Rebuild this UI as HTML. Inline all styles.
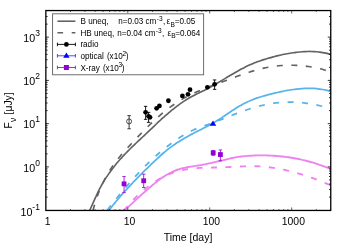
<!DOCTYPE html><html><head><meta charset="utf-8"><style>html,body{margin:0;padding:0;background:#fff;width:350px;height:245px;overflow:hidden}</style></head><body><svg width="350" height="245" viewBox="0 0 350 245" style="position:absolute;left:0;top:0;will-change:transform;font-family:'Liberation Sans',sans-serif">
<defs><clipPath id="c"><rect x="45.85" y="10.55" width="284.90" height="199.90"/></clipPath></defs>
<rect width="350" height="245" fill="#fff"/>
<g clip-path="url(#c)"><g transform="translate(0,0.4)" fill="none" stroke-width="1.55">
<path d="M89.66,210.06 C89.87,209.60 90.52,208.21 90.94,207.29 C91.36,206.37 91.78,205.46 92.19,204.54 C92.60,203.62 93.00,202.70 93.41,201.79 C93.82,200.88 94.22,199.97 94.63,199.06 C95.04,198.15 95.44,197.25 95.85,196.35 C96.26,195.45 96.68,194.55 97.10,193.65 C97.52,192.75 97.94,191.87 98.38,190.98 C98.81,190.09 99.26,189.20 99.71,188.32 C100.16,187.44 100.62,186.56 101.10,185.69 C101.57,184.82 102.06,183.95 102.56,183.09 C103.06,182.23 103.58,181.36 104.10,180.51 C104.62,179.66 105.15,178.80 105.69,177.96 C106.23,177.12 106.79,176.28 107.35,175.45 C107.91,174.62 108.48,173.79 109.06,172.97 C109.64,172.15 110.22,171.33 110.82,170.52 C111.41,169.71 112.02,168.91 112.63,168.11 C113.24,167.31 113.86,166.53 114.48,165.75 C115.10,164.97 115.73,164.19 116.36,163.42 C116.99,162.65 117.63,161.89 118.27,161.13 C118.91,160.37 119.56,159.62 120.22,158.88 C120.88,158.14 121.53,157.40 122.20,156.67 C122.87,155.94 123.54,155.20 124.22,154.48 C124.90,153.75 125.58,153.03 126.27,152.32 C126.96,151.60 127.65,150.90 128.35,150.19 C129.05,149.48 129.77,148.78 130.48,148.08 C131.19,147.38 131.91,146.68 132.63,145.98 C133.35,145.28 134.09,144.59 134.82,143.90 C135.55,143.21 136.29,142.52 137.02,141.83 C137.75,141.14 138.49,140.46 139.22,139.77 C139.95,139.08 140.69,138.40 141.43,137.71 C142.17,137.03 142.90,136.34 143.63,135.66 C144.36,134.97 145.09,134.29 145.82,133.60 C146.54,132.91 147.26,132.22 147.98,131.54 C148.70,130.85 149.42,130.18 150.14,129.49 C150.86,128.81 151.57,128.11 152.29,127.43 C153.01,126.75 153.72,126.07 154.44,125.39 C155.16,124.71 155.87,124.03 156.59,123.35 C157.31,122.67 158.03,121.99 158.76,121.32 C159.48,120.65 160.21,119.98 160.94,119.31 C161.67,118.64 162.39,117.98 163.13,117.32 C163.87,116.66 164.60,116.00 165.35,115.34 C166.09,114.68 166.84,114.03 167.60,113.38 C168.36,112.73 169.12,112.08 169.89,111.44 C170.66,110.80 171.43,110.16 172.21,109.53 C172.99,108.90 173.77,108.27 174.57,107.65 C175.37,107.03 176.18,106.40 176.99,105.79 C177.80,105.18 178.62,104.58 179.45,103.98 C180.28,103.38 181.11,102.79 181.95,102.21 C182.79,101.63 183.63,101.06 184.48,100.51 C185.33,99.96 186.19,99.41 187.05,98.88 C187.91,98.35 188.77,97.84 189.64,97.34 C190.51,96.84 191.38,96.36 192.25,95.89 C193.12,95.42 194.00,94.97 194.88,94.53 C195.76,94.09 196.63,93.65 197.51,93.22 C198.39,92.79 199.27,92.37 200.15,91.94 C201.03,91.51 201.90,91.09 202.78,90.66 C203.66,90.23 204.54,89.79 205.41,89.34 C206.28,88.89 207.15,88.44 208.02,87.98 C208.89,87.52 209.76,87.04 210.63,86.56 C211.50,86.08 212.36,85.59 213.23,85.10 C214.09,84.61 214.96,84.10 215.82,83.60 C216.68,83.10 217.55,82.59 218.41,82.08 C219.27,81.57 220.14,81.06 221.00,80.54 C221.86,80.02 222.72,79.50 223.58,78.98 C224.44,78.46 225.31,77.94 226.18,77.42 C227.05,76.90 227.90,76.38 228.77,75.86 C229.64,75.34 230.51,74.82 231.38,74.31 C232.25,73.80 233.12,73.28 233.99,72.78 C234.86,72.28 235.74,71.78 236.62,71.28 C237.50,70.78 238.38,70.29 239.26,69.81 C240.14,69.33 241.02,68.85 241.91,68.38 C242.80,67.91 243.69,67.45 244.58,67.00 C245.47,66.55 246.37,66.12 247.27,65.69 C248.17,65.26 249.06,64.84 249.97,64.44 C250.88,64.04 251.79,63.65 252.70,63.27 C253.61,62.89 254.52,62.53 255.44,62.18 C256.36,61.83 257.27,61.48 258.20,61.15 C259.12,60.81 260.06,60.49 260.99,60.17 C261.92,59.85 262.86,59.55 263.80,59.25 C264.74,58.95 265.69,58.65 266.64,58.36 C267.59,58.07 268.54,57.79 269.50,57.51 C270.46,57.23 271.42,56.96 272.38,56.70 C273.34,56.44 274.31,56.18 275.28,55.93 C276.25,55.68 277.22,55.44 278.20,55.21 C279.18,54.98 280.15,54.75 281.13,54.53 C282.11,54.31 283.09,54.10 284.08,53.90 C285.06,53.70 286.05,53.50 287.04,53.32 C288.03,53.14 289.02,52.96 290.01,52.80 C291.00,52.64 292.00,52.48 292.99,52.34 C293.99,52.20 294.99,52.06 295.98,51.94 C296.98,51.82 297.96,51.71 298.96,51.61 C299.95,51.51 300.95,51.42 301.95,51.34 C302.95,51.27 303.94,51.21 304.94,51.16 C305.94,51.11 306.93,51.08 307.93,51.06 C308.93,51.04 309.93,51.04 310.92,51.06 C311.91,51.08 312.90,51.11 313.89,51.16 C314.88,51.21 315.87,51.29 316.86,51.38 C317.85,51.47 318.83,51.58 319.82,51.71 C320.81,51.84 321.79,52.00 322.77,52.17 C323.75,52.34 324.73,52.54 325.70,52.76 C326.67,52.98 327.64,53.23 328.61,53.50 C329.58,53.77 331.03,54.24 331.51,54.39" stroke="#626262" stroke-width="1.65"/>
<path d="M92.70,211.07 C92.83,210.59 93.22,209.16 93.49,208.21 C93.76,207.26 94.02,206.31 94.30,205.36 C94.58,204.41 94.86,203.47 95.15,202.52 C95.44,201.58 95.73,200.63 96.03,199.69 C96.33,198.75 96.64,197.81 96.96,196.87 C97.28,195.93 97.62,195.00 97.96,194.07 C98.30,193.14 98.66,192.21 99.02,191.29 C99.38,190.37 99.76,189.44 100.15,188.53 C100.54,187.62 100.94,186.71 101.35,185.80 C101.76,184.90 102.19,184.00 102.62,183.10 C103.05,182.20 103.49,181.31 103.94,180.43 C104.39,179.55 104.84,178.66 105.31,177.79 C105.78,176.92 106.26,176.05 106.75,175.19 C107.24,174.33 107.73,173.48 108.24,172.63 C108.74,171.78 109.25,170.94 109.78,170.10 C110.31,169.26 110.85,168.43 111.39,167.61 C111.93,166.79 112.48,165.97 113.04,165.16 C113.60,164.35 114.17,163.55 114.75,162.75 C115.33,161.95 115.91,161.16 116.51,160.38 C117.11,159.60 117.72,158.82 118.33,158.05 C118.94,157.28 119.56,156.52 120.19,155.76 C120.82,155.00 121.46,154.25 122.11,153.51 C122.76,152.76 123.41,152.02 124.07,151.29 C124.73,150.56 125.39,149.83 126.06,149.10 C126.73,148.37 127.40,147.64 128.07,146.91 C128.74,146.18 129.41,145.46 130.09,144.73 C130.77,144.00 131.44,143.28 132.12,142.55 C132.80,141.82 133.48,141.10 134.16,140.37 C134.84,139.64 135.52,138.91 136.20,138.19 C136.88,137.47 137.57,136.74 138.26,136.02 C138.95,135.30 139.64,134.58 140.33,133.86 C141.02,133.14 141.72,132.43 142.41,131.71 C143.10,131.00 143.80,130.28 144.50,129.57 C145.20,128.86 145.90,128.15 146.61,127.45 C147.32,126.75 148.03,126.04 148.74,125.35 C149.45,124.66 150.17,123.97 150.89,123.28 C151.61,122.59 152.33,121.90 153.05,121.22 C153.78,120.54 154.51,119.87 155.24,119.20 C155.97,118.53 156.71,117.86 157.45,117.20 C158.19,116.54 158.93,115.89 159.68,115.24 C160.43,114.59 161.18,113.95 161.94,113.31 C162.70,112.67 163.46,112.04 164.23,111.42 C165.00,110.80 165.76,110.19 166.54,109.58 C167.31,108.97 168.09,108.36 168.88,107.77 C169.66,107.18 170.45,106.60 171.25,106.02 C172.05,105.44 172.85,104.87 173.66,104.31 C174.47,103.75 175.27,103.19 176.09,102.65 C176.91,102.11 177.74,101.58 178.57,101.05 C179.40,100.52 180.23,100.01 181.07,99.50 C181.91,98.99 182.76,98.50 183.61,98.01 C184.47,97.53 185.33,97.06 186.20,96.59 C187.07,96.12 187.93,95.67 188.81,95.22 C189.69,94.77 190.57,94.34 191.46,93.91 C192.35,93.48 193.24,93.06 194.14,92.65 C195.04,92.24 195.94,91.83 196.84,91.43 C197.75,91.03 198.66,90.64 199.57,90.25 C200.48,89.86 201.40,89.49 202.32,89.11 C203.24,88.73 204.16,88.36 205.09,87.99 C206.02,87.62 206.94,87.26 207.87,86.90 C208.80,86.54 209.73,86.18 210.66,85.83 C211.59,85.48 212.53,85.13 213.46,84.78 C214.40,84.43 215.33,84.09 216.27,83.74 C217.21,83.39 218.14,83.05 219.08,82.70 C220.02,82.36 220.95,82.02 221.89,81.67 C222.82,81.33 223.76,80.98 224.69,80.63 C225.62,80.28 226.56,79.93 227.49,79.58 C228.42,79.23 229.35,78.88 230.28,78.53 C231.21,78.18 232.14,77.84 233.07,77.49 C234.00,77.14 234.93,76.79 235.86,76.45 C236.79,76.11 237.72,75.77 238.65,75.43 C239.58,75.09 240.51,74.75 241.44,74.42 C242.37,74.09 243.31,73.76 244.24,73.44 C245.17,73.12 246.10,72.80 247.04,72.49 C247.97,72.18 248.91,71.87 249.85,71.57 C250.79,71.27 251.73,70.97 252.67,70.69 C253.61,70.41 254.56,70.13 255.50,69.86 C256.44,69.59 257.39,69.33 258.34,69.08 C259.29,68.83 260.24,68.58 261.20,68.35 C262.16,68.12 263.12,67.89 264.08,67.68 C265.04,67.47 266.01,67.27 266.98,67.08 C267.95,66.89 268.92,66.72 269.89,66.56 C270.86,66.40 271.84,66.24 272.82,66.10 C273.80,65.96 274.78,65.83 275.77,65.71 C276.75,65.59 277.74,65.48 278.73,65.39 C279.72,65.30 280.71,65.21 281.70,65.14 C282.69,65.07 283.69,65.02 284.68,64.97 C285.67,64.92 286.67,64.89 287.66,64.86 C288.65,64.83 289.64,64.82 290.64,64.82 C291.63,64.82 292.63,64.83 293.63,64.86 C294.63,64.89 295.62,64.92 296.62,64.97 C297.62,65.02 298.61,65.07 299.60,65.14 C300.59,65.21 301.58,65.30 302.57,65.39 C303.56,65.48 304.55,65.59 305.54,65.71 C306.53,65.83 307.51,65.97 308.49,66.11 C309.47,66.25 310.45,66.40 311.43,66.57 C312.41,66.74 313.39,66.92 314.36,67.11 C315.33,67.30 316.30,67.50 317.27,67.71 C318.24,67.92 319.20,68.15 320.16,68.39 C321.12,68.63 322.07,68.88 323.02,69.14 C323.97,69.40 324.92,69.68 325.86,69.97 C326.80,70.26 327.75,70.55 328.68,70.86 C329.61,71.17 331.00,71.67 331.46,71.83" stroke="#626262" stroke-width="1.65" stroke-dasharray="6 8.5" stroke-dashoffset="13.45"/>
<path d="M108.18,210.98 C108.48,210.59 109.38,209.40 109.98,208.62 C110.58,207.84 111.19,207.06 111.80,206.28 C112.41,205.50 113.04,204.72 113.66,203.95 C114.28,203.18 114.91,202.41 115.54,201.64 C116.17,200.87 116.81,200.10 117.45,199.34 C118.09,198.58 118.73,197.82 119.38,197.06 C120.03,196.30 120.68,195.55 121.34,194.80 C122.00,194.05 122.66,193.30 123.32,192.55 C123.98,191.80 124.65,191.06 125.32,190.32 C125.99,189.58 126.66,188.85 127.33,188.11 C128.00,187.38 128.68,186.64 129.36,185.91 C130.04,185.18 130.72,184.45 131.41,183.73 C132.09,183.01 132.78,182.29 133.47,181.57 C134.16,180.85 134.85,180.14 135.54,179.43 C136.23,178.72 136.93,178.02 137.62,177.31 C138.31,176.60 139.01,175.90 139.71,175.20 C140.41,174.50 141.10,173.80 141.80,173.11 C142.50,172.42 143.21,171.73 143.91,171.04 C144.61,170.35 145.31,169.66 146.02,168.98 C146.73,168.29 147.43,167.61 148.14,166.93 C148.85,166.25 149.56,165.56 150.27,164.88 C150.98,164.19 151.69,163.50 152.41,162.82 C153.13,162.13 153.85,161.46 154.57,160.77 C155.29,160.08 156.02,159.39 156.75,158.70 C157.48,158.01 158.21,157.32 158.95,156.64 C159.69,155.96 160.43,155.27 161.18,154.60 C161.93,153.93 162.68,153.26 163.44,152.60 C164.20,151.94 164.97,151.29 165.74,150.65 C166.51,150.01 167.29,149.39 168.08,148.77 C168.87,148.15 169.67,147.54 170.47,146.95 C171.27,146.35 172.08,145.77 172.89,145.20 C173.70,144.63 174.52,144.06 175.34,143.51 C176.16,142.95 177.00,142.41 177.83,141.87 C178.66,141.33 179.50,140.81 180.34,140.29 C181.18,139.77 182.03,139.26 182.88,138.76 C183.73,138.26 184.58,137.76 185.44,137.27 C186.30,136.78 187.16,136.31 188.02,135.83 C188.88,135.36 189.75,134.88 190.62,134.42 C191.49,133.95 192.36,133.50 193.23,133.04 C194.10,132.58 194.98,132.14 195.85,131.69 C196.72,131.24 197.59,130.79 198.47,130.35 C199.34,129.91 200.22,129.47 201.10,129.02 C201.98,128.58 202.85,128.13 203.73,127.68 C204.60,127.23 205.48,126.78 206.35,126.32 C207.22,125.86 208.10,125.39 208.97,124.92 C209.84,124.45 210.71,123.97 211.58,123.48 C212.45,122.99 213.32,122.50 214.18,122.00 C215.04,121.50 215.90,120.97 216.76,120.45 C217.62,119.93 218.47,119.40 219.32,118.86 C220.17,118.32 221.03,117.77 221.87,117.21 C222.72,116.65 223.55,116.08 224.39,115.52 C225.23,114.95 226.06,114.39 226.90,113.82 C227.74,113.25 228.57,112.67 229.41,112.11 C230.25,111.55 231.07,110.99 231.91,110.43 C232.75,109.88 233.58,109.32 234.42,108.78 C235.26,108.24 236.10,107.72 236.94,107.20 C237.78,106.69 238.63,106.18 239.48,105.69 C240.33,105.20 241.18,104.73 242.04,104.26 C242.90,103.80 243.76,103.34 244.63,102.90 C245.50,102.46 246.38,102.04 247.26,101.62 C248.14,101.20 249.03,100.80 249.93,100.41 C250.83,100.02 251.73,99.65 252.64,99.29 C253.55,98.93 254.46,98.59 255.39,98.25 C256.31,97.91 257.25,97.59 258.19,97.27 C259.13,96.95 260.07,96.64 261.02,96.35 C261.97,96.05 262.91,95.78 263.87,95.50 C264.83,95.22 265.79,94.95 266.76,94.69 C267.73,94.43 268.69,94.18 269.66,93.93 C270.63,93.68 271.60,93.44 272.57,93.20 C273.54,92.96 274.52,92.74 275.50,92.51 C276.48,92.28 277.46,92.06 278.44,91.84 C279.42,91.62 280.39,91.41 281.37,91.20 C282.35,91.00 283.34,90.80 284.32,90.61 C285.30,90.42 286.28,90.23 287.26,90.05 C288.24,89.87 289.24,89.71 290.22,89.55 C291.21,89.39 292.19,89.24 293.17,89.10 C294.16,88.96 295.14,88.83 296.13,88.72 C297.12,88.61 298.09,88.50 299.08,88.41 C300.06,88.32 301.05,88.24 302.04,88.17 C303.03,88.10 304.01,88.05 305.00,88.01 C305.99,87.97 306.97,87.95 307.96,87.94 C308.95,87.93 309.93,87.93 310.92,87.96 C311.91,87.98 312.89,88.03 313.88,88.09 C314.87,88.15 315.85,88.22 316.83,88.32 C317.81,88.41 318.80,88.53 319.78,88.66 C320.76,88.79 321.75,88.94 322.73,89.11 C323.71,89.28 324.70,89.48 325.68,89.70 C326.66,89.92 327.64,90.15 328.62,90.41 C329.60,90.67 331.06,91.12 331.55,91.26" stroke="#56b4e9" stroke-width="1.75"/>
<path d="M106.35,210.91 C106.66,210.51 107.59,209.33 108.21,208.54 C108.83,207.75 109.44,206.96 110.06,206.17 C110.68,205.38 111.30,204.59 111.92,203.81 C112.54,203.03 113.17,202.24 113.79,201.46 C114.41,200.68 115.03,199.90 115.66,199.12 C116.28,198.34 116.91,197.56 117.54,196.79 C118.17,196.01 118.80,195.24 119.43,194.47 C120.06,193.70 120.69,192.93 121.33,192.16 C121.97,191.39 122.60,190.62 123.24,189.86 C123.88,189.10 124.53,188.33 125.17,187.57 C125.81,186.81 126.45,186.06 127.10,185.30 C127.75,184.55 128.40,183.79 129.05,183.04 C129.70,182.29 130.36,181.54 131.02,180.79 C131.68,180.04 132.34,179.30 133.01,178.56 C133.67,177.82 134.34,177.08 135.01,176.34 C135.68,175.60 136.35,174.87 137.03,174.14 C137.71,173.41 138.39,172.68 139.07,171.96 C139.75,171.24 140.44,170.52 141.13,169.80 C141.82,169.08 142.51,168.36 143.21,167.65 C143.91,166.94 144.61,166.23 145.31,165.52 C146.01,164.81 146.72,164.12 147.44,163.42 C148.16,162.72 148.88,162.02 149.60,161.33 C150.32,160.64 151.05,159.95 151.78,159.27 C152.51,158.59 153.24,157.91 153.98,157.23 C154.72,156.55 155.46,155.88 156.21,155.21 C156.96,154.54 157.71,153.89 158.47,153.23 C159.23,152.57 159.99,151.92 160.76,151.27 C161.53,150.62 162.29,149.98 163.07,149.35 C163.85,148.72 164.63,148.09 165.42,147.46 C166.21,146.84 166.99,146.21 167.79,145.60 C168.59,144.99 169.39,144.38 170.20,143.78 C171.01,143.18 171.82,142.58 172.64,141.99 C173.46,141.40 174.27,140.82 175.10,140.25 C175.93,139.68 176.76,139.11 177.60,138.55 C178.44,137.99 179.29,137.44 180.14,136.89 C180.99,136.34 181.84,135.81 182.70,135.28 C183.56,134.75 184.43,134.23 185.30,133.73 C186.17,133.22 187.05,132.73 187.93,132.25 C188.81,131.77 189.69,131.31 190.58,130.87 C191.47,130.43 192.36,130.00 193.26,129.60 C194.16,129.20 195.06,128.81 195.96,128.45 C196.86,128.08 197.77,127.75 198.68,127.41 C199.59,127.07 200.50,126.75 201.41,126.43 C202.32,126.11 203.24,125.80 204.16,125.48 C205.08,125.16 206.00,124.84 206.92,124.52 C207.84,124.19 208.76,123.87 209.69,123.53 C210.62,123.19 211.54,122.85 212.47,122.50 C213.40,122.15 214.32,121.80 215.25,121.44 C216.18,121.08 217.12,120.72 218.05,120.36 C218.98,120.00 219.91,119.63 220.85,119.26 C221.78,118.89 222.72,118.52 223.66,118.15 C224.60,117.78 225.53,117.40 226.47,117.03 C227.41,116.66 228.36,116.29 229.30,115.92 C230.24,115.55 231.19,115.18 232.13,114.81 C233.07,114.44 234.02,114.07 234.97,113.71 C235.92,113.35 236.86,112.99 237.81,112.63 C238.76,112.27 239.71,111.92 240.66,111.57 C241.61,111.22 242.57,110.88 243.52,110.55 C244.47,110.22 245.43,109.88 246.38,109.56 C247.33,109.24 248.29,108.92 249.25,108.61 C250.21,108.30 251.17,108.00 252.13,107.71 C253.09,107.42 254.05,107.13 255.01,106.86 C255.97,106.59 256.93,106.32 257.90,106.06 C258.87,105.80 259.83,105.56 260.80,105.32 C261.77,105.08 262.73,104.86 263.70,104.64 C264.67,104.42 265.65,104.22 266.62,104.03 C267.59,103.84 268.56,103.65 269.54,103.48 C270.52,103.31 271.49,103.15 272.47,103.00 C273.45,102.85 274.43,102.71 275.41,102.59 C276.39,102.47 277.38,102.36 278.37,102.26 C279.36,102.16 280.34,102.08 281.33,102.01 C282.32,101.94 283.31,101.88 284.30,101.83 C285.29,101.78 286.29,101.75 287.28,101.73 C288.27,101.71 289.26,101.70 290.26,101.70 C291.25,101.70 292.25,101.72 293.25,101.75 C294.25,101.78 295.24,101.81 296.23,101.86 C297.23,101.91 298.23,101.97 299.22,102.05 C300.22,102.13 301.21,102.22 302.20,102.32 C303.19,102.42 304.19,102.53 305.18,102.65 C306.17,102.77 307.17,102.91 308.16,103.05 C309.15,103.19 310.14,103.35 311.13,103.52 C312.12,103.69 313.10,103.87 314.08,104.06 C315.06,104.25 316.05,104.46 317.03,104.67 C318.01,104.88 318.99,105.11 319.97,105.34 C320.95,105.58 321.92,105.82 322.89,106.08 C323.86,106.34 324.84,106.60 325.80,106.88 C326.76,107.16 327.72,107.45 328.68,107.75 C329.64,108.05 331.07,108.53 331.55,108.68" stroke="#56b4e9" stroke-width="1.75" stroke-dasharray="6 8.5" stroke-dashoffset="13.04"/>
<path d="M123.43,210.92 C123.80,210.59 124.89,209.60 125.62,208.94 C126.35,208.28 127.08,207.61 127.80,206.95 C128.52,206.29 129.24,205.62 129.96,204.96 C130.68,204.30 131.40,203.63 132.12,202.97 C132.84,202.31 133.56,201.64 134.28,200.98 C135.00,200.32 135.72,199.65 136.44,198.99 C137.16,198.33 137.89,197.66 138.61,197.00 C139.34,196.34 140.06,195.67 140.79,195.01 C141.52,194.35 142.25,193.69 142.99,193.03 C143.73,192.37 144.47,191.71 145.21,191.05 C145.96,190.39 146.71,189.74 147.46,189.08 C148.22,188.42 148.97,187.76 149.74,187.11 C150.51,186.46 151.28,185.81 152.06,185.16 C152.84,184.51 153.62,183.86 154.41,183.22 C155.20,182.58 156.00,181.94 156.81,181.32 C157.62,180.69 158.42,180.07 159.24,179.47 C160.06,178.87 160.88,178.27 161.71,177.69 C162.54,177.11 163.38,176.54 164.23,175.99 C165.07,175.44 165.92,174.90 166.78,174.39 C167.64,173.88 168.50,173.38 169.37,172.91 C170.24,172.44 171.12,171.99 172.01,171.57 C172.90,171.15 173.79,170.74 174.69,170.37 C175.59,170.00 176.50,169.66 177.41,169.35 C178.32,169.04 179.24,168.76 180.17,168.50 C181.10,168.24 182.03,168.00 182.97,167.78 C183.91,167.56 184.85,167.35 185.80,167.16 C186.75,166.97 187.69,166.80 188.65,166.63 C189.61,166.46 190.57,166.31 191.53,166.15 C192.49,166.00 193.45,165.85 194.42,165.70 C195.38,165.55 196.35,165.41 197.32,165.25 C198.29,165.09 199.26,164.94 200.23,164.77 C201.20,164.60 202.17,164.41 203.14,164.23 C204.11,164.04 205.09,163.86 206.06,163.66 C207.03,163.46 208.00,163.25 208.97,163.04 C209.94,162.83 210.92,162.61 211.89,162.39 C212.86,162.17 213.84,161.95 214.81,161.72 C215.78,161.49 216.76,161.26 217.74,161.03 C218.72,160.80 219.69,160.57 220.67,160.34 C221.65,160.11 222.63,159.86 223.61,159.63 C224.59,159.40 225.57,159.17 226.55,158.94 C227.53,158.71 228.51,158.48 229.49,158.26 C230.47,158.04 231.46,157.82 232.44,157.62 C233.42,157.42 234.40,157.22 235.39,157.04 C236.38,156.86 237.36,156.69 238.35,156.54 C239.34,156.39 240.31,156.25 241.30,156.13 C242.29,156.00 243.27,155.89 244.26,155.79 C245.25,155.69 246.23,155.60 247.22,155.52 C248.21,155.44 249.19,155.38 250.18,155.32 C251.17,155.26 252.16,155.20 253.15,155.16 C254.14,155.12 255.12,155.08 256.11,155.05 C257.10,155.02 258.08,155.00 259.07,154.99 C260.06,154.98 261.04,154.97 262.03,154.97 C263.02,154.97 264.00,154.97 264.99,154.99 C265.98,155.01 266.96,155.04 267.95,155.07 C268.94,155.10 269.93,155.13 270.91,155.18 C271.90,155.23 272.88,155.29 273.86,155.35 C274.84,155.41 275.83,155.48 276.81,155.56 C277.79,155.64 278.78,155.73 279.76,155.82 C280.74,155.91 281.72,156.01 282.70,156.12 C283.68,156.23 284.66,156.35 285.64,156.48 C286.62,156.61 287.59,156.74 288.57,156.88 C289.55,157.02 290.52,157.17 291.50,157.33 C292.48,157.49 293.45,157.66 294.42,157.83 C295.39,158.00 296.36,158.19 297.33,158.38 C298.30,158.57 299.27,158.77 300.24,158.98 C301.21,159.19 302.18,159.40 303.14,159.63 C304.10,159.86 305.07,160.10 306.03,160.34 C306.99,160.58 307.96,160.83 308.92,161.09 C309.88,161.35 310.83,161.61 311.79,161.89 C312.75,162.17 313.71,162.46 314.66,162.75 C315.61,163.04 316.56,163.34 317.51,163.65 C318.46,163.96 319.41,164.28 320.36,164.61 C321.31,164.94 322.25,165.27 323.19,165.62 C324.13,165.97 325.07,166.33 326.01,166.69 C326.95,167.05 327.88,167.42 328.82,167.80 C329.75,168.18 331.15,168.78 331.62,168.97" stroke="#ee82ee" stroke-width="1.85"/>
<path d="M122.69,211.54 C122.99,211.17 123.87,210.06 124.48,209.32 C125.09,208.58 125.70,207.84 126.33,207.10 C126.96,206.36 127.59,205.62 128.24,204.89 C128.89,204.15 129.54,203.42 130.21,202.69 C130.88,201.96 131.55,201.23 132.24,200.51 C132.93,199.79 133.62,199.06 134.33,198.35 C135.04,197.63 135.75,196.92 136.47,196.22 C137.19,195.52 137.93,194.82 138.67,194.13 C139.41,193.44 140.15,192.76 140.91,192.08 C141.67,191.40 142.44,190.73 143.21,190.07 C143.98,189.41 144.76,188.76 145.55,188.12 C146.34,187.48 147.13,186.85 147.94,186.23 C148.75,185.61 149.56,185.00 150.38,184.41 C151.20,183.81 152.02,183.23 152.85,182.66 C153.68,182.09 154.52,181.52 155.37,180.98 C156.22,180.44 157.07,179.91 157.93,179.39 C158.79,178.87 159.66,178.37 160.53,177.88 C161.40,177.39 162.28,176.93 163.16,176.48 C164.04,176.03 164.94,175.59 165.83,175.17 C166.73,174.75 167.62,174.35 168.53,173.97 C169.44,173.59 170.35,173.23 171.27,172.89 C172.19,172.55 173.11,172.22 174.03,171.92 C174.95,171.61 175.88,171.33 176.82,171.06 C177.75,170.79 178.70,170.54 179.64,170.31 C180.58,170.08 181.53,169.86 182.48,169.66 C183.43,169.46 184.39,169.28 185.35,169.11 C186.31,168.94 187.26,168.78 188.23,168.64 C189.19,168.50 190.17,168.37 191.14,168.25 C192.11,168.13 193.09,168.03 194.07,167.94 C195.05,167.85 196.03,167.76 197.01,167.69 C197.99,167.62 198.97,167.56 199.96,167.51 C200.95,167.46 201.94,167.42 202.93,167.38 C203.92,167.34 204.92,167.31 205.92,167.29 C206.92,167.26 207.91,167.25 208.91,167.23 C209.91,167.21 210.91,167.19 211.91,167.17 C212.91,167.15 213.92,167.14 214.92,167.12 C215.92,167.10 216.93,167.08 217.93,167.05 C218.93,167.02 219.94,166.99 220.94,166.96 C221.94,166.93 222.95,166.90 223.96,166.86 C224.97,166.83 225.97,166.79 226.98,166.75 C227.98,166.71 228.99,166.66 229.99,166.61 C230.99,166.56 232.00,166.52 233.00,166.47 C234.00,166.42 235.01,166.37 236.01,166.32 C237.01,166.27 238.02,166.22 239.02,166.17 C240.02,166.12 241.02,166.07 242.02,166.03 C243.02,165.99 244.02,165.95 245.02,165.92 C246.02,165.89 247.02,165.86 248.02,165.84 C249.02,165.82 250.01,165.81 251.01,165.80 C252.00,165.80 253.00,165.80 253.99,165.81 C254.98,165.82 255.98,165.84 256.97,165.87 C257.96,165.90 258.95,165.95 259.94,166.01 C260.93,166.06 261.92,166.12 262.91,166.20 C263.90,166.28 264.88,166.37 265.87,166.47 C266.86,166.57 267.84,166.67 268.83,166.79 C269.81,166.91 270.80,167.03 271.78,167.17 C272.76,167.31 273.74,167.45 274.72,167.61 C275.70,167.77 276.67,167.94 277.65,168.11 C278.63,168.28 279.61,168.46 280.58,168.65 C281.55,168.84 282.52,169.04 283.49,169.25 C284.46,169.46 285.43,169.68 286.40,169.90 C287.37,170.12 288.34,170.35 289.30,170.59 C290.26,170.83 291.23,171.07 292.19,171.32 C293.15,171.57 294.11,171.83 295.07,172.10 C296.03,172.37 296.99,172.64 297.94,172.92 C298.89,173.20 299.85,173.49 300.80,173.78 C301.75,174.07 302.70,174.37 303.65,174.67 C304.60,174.97 305.55,175.28 306.49,175.60 C307.43,175.92 308.37,176.24 309.31,176.57 C310.25,176.90 311.19,177.22 312.13,177.56 C313.07,177.90 314.00,178.23 314.93,178.58 C315.86,178.93 316.79,179.28 317.72,179.64 C318.65,180.00 319.58,180.36 320.50,180.72 C321.42,181.08 322.34,181.45 323.26,181.82 C324.18,182.19 325.10,182.57 326.02,182.95 C326.94,183.33 327.84,183.71 328.75,184.09 C329.66,184.47 331.03,185.06 331.48,185.26" stroke="#ee82ee" stroke-width="1.85" stroke-dasharray="6 8.5" stroke-dashoffset="12.87"/>
</g></g>
<g transform="translate(0,0.35)">
<g stroke="#222" stroke-width="0.90" fill="none"><path d="M129.10,115.30 V128.40 M127.40,115.30 H130.80 M127.40,128.40 H130.80"/></g>
<circle cx="129.1" cy="121.05" r="2.5" fill="none" stroke="#222" stroke-width="0.8"/>
<g stroke="#000" stroke-width="0.90" fill="none"><path d="M145.60,106.00 V119.00 M143.90,106.00 H147.30 M143.90,119.00 H147.30"/></g>
<circle cx="145.60" cy="112.00" r="2.40" fill="#000"/>
<g stroke="#000" stroke-width="0.90" fill="none"><path d="M148.60,112.00 V122.00 M146.90,112.00 H150.30 M146.90,122.00 H150.30"/></g>
<circle cx="148.60" cy="116.00" r="2.40" fill="#000"/>
<circle cx="150.00" cy="117.00" r="2.40" fill="#000"/>
<circle cx="156.60" cy="108.00" r="2.40" fill="#000"/>
<circle cx="159.40" cy="105.60" r="2.40" fill="#000"/>
<circle cx="168.40" cy="100.40" r="2.40" fill="#000"/>
<circle cx="182.40" cy="95.60" r="2.40" fill="#000"/>
<circle cx="188.00" cy="94.00" r="2.40" fill="#000"/>
<circle cx="190.00" cy="89.30" r="2.40" fill="#000"/>
<circle cx="207.40" cy="87.00" r="2.40" fill="#000"/>
<g stroke="#000" stroke-width="0.90" fill="none"><path d="M214.60,79.60 V89.00 M212.90,79.60 H216.30 M212.90,89.00 H216.30"/></g>
<circle cx="214.60" cy="84.00" r="2.40" fill="#000"/>
<path d="M213.00,120.18 L216.20,125.38 L209.80,125.38 Z" fill="#0000ff"/>
<g stroke="#a010de" stroke-width="0.90" fill="none"><path d="M124.05,176.20 V192.20 M122.35,176.20 H125.75 M122.35,192.20 H125.75"/></g>
<rect x="121.65" y="181.10" width="4.80" height="4.80" fill="#9400d3"/>
<g stroke="#a010de" stroke-width="0.90" fill="none"><path d="M143.70,173.80 V187.20 M142.00,173.80 H145.40 M142.00,187.20 H145.40"/></g>
<rect x="141.30" y="178.00" width="4.80" height="4.80" fill="#9400d3"/>
<g stroke="#a010de" stroke-width="0.90" fill="none"><path d="M213.20,150.20 V154.90 M211.50,150.20 H214.90 M211.50,154.90 H214.90"/></g>
<rect x="210.80" y="150.10" width="4.80" height="4.80" fill="#9400d3"/>
<g stroke="#a010de" stroke-width="0.90" fill="none"><path d="M220.40,149.60 V160.40 M218.70,149.60 H222.10 M218.70,160.40 H222.10"/></g>
<rect x="218.00" y="151.80" width="4.80" height="4.80" fill="#9400d3"/>
</g>
<rect x="45.85" y="10.55" width="284.90" height="199.90" fill="none" stroke="#000" stroke-width="1.3"/>
<path d="M45.85,197.13 h1.75 M330.75,197.13 h-1.75 M45.85,189.51 h1.75 M330.75,189.51 h-1.75 M45.85,184.11 h1.75 M330.75,184.11 h-1.75 M45.85,179.92 h1.75 M330.75,179.92 h-1.75 M45.85,176.49 h1.75 M330.75,176.49 h-1.75 M45.85,173.60 h1.75 M330.75,173.60 h-1.75 M45.85,171.09 h1.75 M330.75,171.09 h-1.75 M45.85,168.88 h1.75 M330.75,168.88 h-1.75 M45.85,166.90 h3.00 M330.75,166.90 h-3.00 M45.85,153.88 h1.75 M330.75,153.88 h-1.75 M45.85,146.26 h1.75 M330.75,146.26 h-1.75 M45.85,140.86 h1.75 M330.75,140.86 h-1.75 M45.85,136.67 h1.75 M330.75,136.67 h-1.75 M45.85,133.24 h1.75 M330.75,133.24 h-1.75 M45.85,130.35 h1.75 M330.75,130.35 h-1.75 M45.85,127.84 h1.75 M330.75,127.84 h-1.75 M45.85,125.63 h1.75 M330.75,125.63 h-1.75 M45.85,123.65 h3.00 M330.75,123.65 h-3.00 M45.85,110.63 h1.75 M330.75,110.63 h-1.75 M45.85,103.01 h1.75 M330.75,103.01 h-1.75 M45.85,97.61 h1.75 M330.75,97.61 h-1.75 M45.85,93.42 h1.75 M330.75,93.42 h-1.75 M45.85,89.99 h1.75 M330.75,89.99 h-1.75 M45.85,87.10 h1.75 M330.75,87.10 h-1.75 M45.85,84.59 h1.75 M330.75,84.59 h-1.75 M45.85,82.38 h1.75 M330.75,82.38 h-1.75 M45.85,80.40 h3.00 M330.75,80.40 h-3.00 M45.85,67.38 h1.75 M330.75,67.38 h-1.75 M45.85,59.76 h1.75 M330.75,59.76 h-1.75 M45.85,54.36 h1.75 M330.75,54.36 h-1.75 M45.85,50.17 h1.75 M330.75,50.17 h-1.75 M45.85,46.74 h1.75 M330.75,46.74 h-1.75 M45.85,43.85 h1.75 M330.75,43.85 h-1.75 M45.85,41.34 h1.75 M330.75,41.34 h-1.75 M45.85,39.13 h1.75 M330.75,39.13 h-1.75 M45.85,37.15 h3.00 M330.75,37.15 h-3.00 M45.85,24.13 h1.75 M330.75,24.13 h-1.75 M45.85,16.51 h1.75 M330.75,16.51 h-1.75" stroke="#000" stroke-width="0.8" fill="none"/>
<path d="M70.52,210.45 v-1.40 M70.52,10.55 v1.40 M84.94,210.45 v-1.40 M84.94,10.55 v1.40 M95.18,210.45 v-1.40 M95.18,10.55 v1.40 M103.12,210.45 v-1.40 M103.12,10.55 v1.40 M109.61,210.45 v-1.40 M109.61,10.55 v1.40 M115.09,210.45 v-1.40 M115.09,10.55 v1.40 M119.85,210.45 v-1.40 M119.85,10.55 v1.40 M124.04,210.45 v-1.40 M124.04,10.55 v1.40 M127.79,210.45 v-3.00 M127.79,10.55 v3.00 M152.45,210.45 v-1.40 M152.45,10.55 v1.40 M166.88,210.45 v-1.40 M166.88,10.55 v1.40 M177.12,210.45 v-1.40 M177.12,10.55 v1.40 M185.06,210.45 v-1.40 M185.06,10.55 v1.40 M191.54,210.45 v-1.40 M191.54,10.55 v1.40 M197.03,210.45 v-1.40 M197.03,10.55 v1.40 M201.78,210.45 v-1.40 M201.78,10.55 v1.40 M205.97,210.45 v-1.40 M205.97,10.55 v1.40 M209.72,210.45 v-3.00 M209.72,10.55 v3.00 M234.39,210.45 v-1.40 M234.39,10.55 v1.40 M248.81,210.45 v-1.40 M248.81,10.55 v1.40 M259.05,210.45 v-1.40 M259.05,10.55 v1.40 M266.99,210.45 v-1.40 M266.99,10.55 v1.40 M273.48,210.45 v-1.40 M273.48,10.55 v1.40 M278.96,210.45 v-1.40 M278.96,10.55 v1.40 M283.72,210.45 v-1.40 M283.72,10.55 v1.40 M287.91,210.45 v-1.40 M287.91,10.55 v1.40 M291.66,210.45 v-3.00 M291.66,10.55 v3.00 M316.32,210.45 v-1.40 M316.32,10.55 v1.40" stroke="#000" stroke-width="0.6" fill="none"/>
<text x="47.55" y="225.15" font-size="10.4" text-anchor="middle">1</text>
<text x="129.49" y="225.15" font-size="10.4" text-anchor="middle">10</text>
<text x="211.42" y="225.15" font-size="10.4" text-anchor="middle">100</text>
<text x="293.36" y="225.15" font-size="10.4" text-anchor="middle">1000</text>
<text x="39.9" y="215.85" font-size="10.67" text-anchor="end">10<tspan dy="-6" font-size="8.5">-1</tspan></text>
<text x="39.9" y="171.90" font-size="10.67" text-anchor="end">10<tspan dy="-6" font-size="8.5">0</tspan></text>
<text x="39.9" y="128.45" font-size="10.67" text-anchor="end">10<tspan dy="-6" font-size="8.5">1</tspan></text>
<text x="39.9" y="85.00" font-size="10.67" text-anchor="end">10<tspan dy="-6" font-size="8.5">2</tspan></text>
<text x="39.9" y="41.85" font-size="10.67" text-anchor="end">10<tspan dy="-6" font-size="8.5">3</tspan></text>
<text x="163.7" y="240.9" font-size="10.5">Time [day]</text>
<g transform="translate(12,0) rotate(-90)" font-size="10.3"><text x="-128.6" y="0">F</text><text x="-122.1" y="3.9" font-size="8.5">ν</text><text x="-114.4" y="0">[μJy]</text></g>
<rect x="52.55" y="13.8" width="151.05" height="60.95" fill="#fff" stroke="#6e6e6e" stroke-width="1"/>
<path d="M57.4,21.20 H75.4" stroke="#626262" stroke-width="1.55"/>
<path d="M57.4,32.80 H75.4" stroke="#626262" stroke-width="1.55" stroke-dasharray="5.7 8.6"/>
<path d="M57.4,44.40 H75.4 M57.4,42.60 v3.6 M75.4,42.60 v3.6" stroke="#000" stroke-width="0.90" fill="none"/>
<circle cx="66.40" cy="44.40" r="2.40" fill="#000"/>
<path d="M57.4,55.80 H75.4 M57.4,54.00 v3.6 M75.4,54.00 v3.6" stroke="#3838ff" stroke-width="0.90" fill="none"/>
<path d="M66.40,52.58 L69.60,57.78 L63.20,57.78 Z" fill="#0000ff"/>
<path d="M57.4,67.50 H75.4 M57.4,65.70 v3.6 M75.4,65.70 v3.6" stroke="#a010de" stroke-width="0.90" fill="none"/>
<rect x="63.90" y="65.00" width="5.00" height="5.00" fill="#9400d3"/>
<text x="80.60" y="23.75" font-size="8.15">B uneq,</text>
<text x="118.20" y="23.75" font-size="8.15">n=0.03 cm</text>
<text x="156.70" y="21.25" font-size="6.6">-3</text>
<text x="163.00" y="23.75" font-size="8.15">,</text>
<text x="166.60" y="23.75" font-size="8.15">ε</text>
<text x="170.50" y="26.55" font-size="6.6">B</text>
<text x="174.80" y="23.75" font-size="8.15">=0.05</text>
<text x="80.50" y="35.55" font-size="8.15">HB uneq,</text>
<text x="117.30" y="35.55" font-size="8.15">n=0.04 cm</text>
<text x="155.80" y="32.65" font-size="6.6">-3</text>
<text x="161.90" y="35.55" font-size="8.15">,</text>
<text x="167.40" y="35.55" font-size="8.15">ε</text>
<text x="171.20" y="38.25" font-size="6.6">B</text>
<text x="175.20" y="35.55" font-size="8.15">=0.064</text>
<text x="80.40" y="47.35" font-size="8.15">radio</text>
<text x="80.40" y="59.15" font-size="8.15">optical</text>
<text x="106.90" y="59.15" font-size="8.15">(x10</text>
<text x="122.60" y="56.15" font-size="6.6">2</text>
<text x="125.70" y="59.15" font-size="8.15">)</text>
<text x="80.40" y="70.75" font-size="8.15">X-ray</text>
<text x="102.90" y="70.75" font-size="8.15">(x10</text>
<text x="118.60" y="67.35" font-size="6.6">3</text>
<text x="121.70" y="70.75" font-size="8.15">)</text>
</svg></body></html>
